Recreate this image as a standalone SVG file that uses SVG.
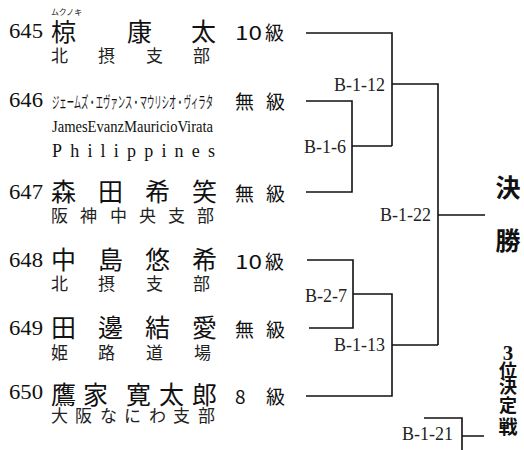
<svg xmlns="http://www.w3.org/2000/svg" width="524" height="450" viewBox="0 0 524 450">
<style>
.num{font-family:"Liberation Serif","DejaVu Serif",serif;font-size:21px;fill:#111}
.nm{font-family:"Noto Sans CJK JP",sans-serif;font-size:25px;fill:#111}
.af{font-family:"Noto Sans CJK JP",sans-serif;font-size:17px;fill:#222}
.gr{font-family:"Noto Sans CJK JP",sans-serif;font-size:19px;fill:#111}
.lb{font-family:"Liberation Serif","DejaVu Serif",serif;font-size:18px;fill:#222;text-anchor:end}
.bd{font-family:"Liberation Serif","Noto Sans CJK JP",serif;font-weight:bold;fill:#111;text-anchor:middle}
.ln{fill:none;stroke:#111;stroke-width:1.6}
</style>
<rect width="524" height="450" fill="#fff"/>
<g id="p645">
<text class="af" x="51" y="15" style="font-size:8.5px" textLength="31" lengthAdjust="spacingAndGlyphs">ムクノキ</text>
<text class="num" x="9" y="38" textLength="34" lengthAdjust="spacingAndGlyphs">645</text>
<text class="nm" y="41"><tspan x="51">椋</tspan><tspan x="127">康</tspan><tspan x="191">太</tspan></text>
<text class="af" y="62"><tspan x="51">北</tspan><tspan x="98">摂</tspan><tspan x="146">支</tspan><tspan x="193">部</tspan></text>
<text class="gr" x="235" y="40" textLength="27" lengthAdjust="spacingAndGlyphs">10</text>
<text class="gr" x="265" y="40">級</text>
</g>
<g id="p646">
<text class="num" x="9" y="107" textLength="34" lengthAdjust="spacingAndGlyphs">646</text>
<text class="af" x="52" y="108" style="font-size:16px;fill:#111" textLength="161" lengthAdjust="spacingAndGlyphs">ジェームズ・エヴァンス・マウリシオ・ヴィラタ</text>
<text class="gr" y="109"><tspan x="235">無</tspan><tspan x="266">級</tspan></text>
<text class="num" x="52" y="132" style="font-size:16px" textLength="161" lengthAdjust="spacingAndGlyphs">JamesEvanzMauricioVirata</text>
<text class="num" x="52" y="157" style="font-size:18px" textLength="163" lengthAdjust="spacing">Philippines</text>
</g>
<g id="p647">
<text class="num" x="9" y="199" textLength="34" lengthAdjust="spacingAndGlyphs">647</text>
<text class="nm" y="201"><tspan x="51">森</tspan><tspan x="98">田</tspan><tspan x="145">希</tspan><tspan x="192">笑</tspan></text>
<text class="af" y="222"><tspan x="51">阪</tspan><tspan x="80">神</tspan><tspan x="110">中</tspan><tspan x="139">央</tspan><tspan x="168">支</tspan><tspan x="197">部</tspan></text>
<text class="gr" y="201"><tspan x="235">無</tspan><tspan x="266">級</tspan></text>
</g>
<g id="p648">
<text class="num" x="9" y="267" textLength="34" lengthAdjust="spacingAndGlyphs">648</text>
<text class="nm" y="269"><tspan x="51">中</tspan><tspan x="98">島</tspan><tspan x="145">悠</tspan><tspan x="192">希</tspan></text>
<text class="af" y="290"><tspan x="51">北</tspan><tspan x="98">摂</tspan><tspan x="146">支</tspan><tspan x="193">部</tspan></text>
<text class="gr" x="235" y="269" textLength="27" lengthAdjust="spacingAndGlyphs">10</text>
<text class="gr" x="265" y="269">級</text>
</g>
<g id="p649">
<text class="num" x="9" y="335" textLength="34" lengthAdjust="spacingAndGlyphs">649</text>
<text class="nm" y="337"><tspan x="51">田</tspan><tspan x="98">邊</tspan><tspan x="145">結</tspan><tspan x="192">愛</tspan></text>
<text class="af" y="359"><tspan x="51">姫</tspan><tspan x="98">路</tspan><tspan x="146">道</tspan><tspan x="194">場</tspan></text>
<text class="gr" y="337"><tspan x="235">無</tspan><tspan x="266">級</tspan></text>
</g>
<g id="p650">
<text class="num" x="9" y="399" textLength="34" lengthAdjust="spacingAndGlyphs">650</text>
<text class="nm" y="404"><tspan x="51">鷹</tspan><tspan x="83">家</tspan><tspan x="126">寛</tspan><tspan x="159">太</tspan><tspan x="192">郎</tspan></text>
<text class="af" y="422"><tspan x="51">大</tspan><tspan x="75">阪</tspan><tspan x="100">な</tspan><tspan x="124">に</tspan><tspan x="149">わ</tspan><tspan x="173">支</tspan><tspan x="198">部</tspan></text>
<text class="gr" y="404"><tspan x="235">8</tspan><tspan x="266">級</tspan></text>
</g>
<g id="connectors">
<path class="ln" d="M306 33H392V146M306 101H352V192H306M352 146H392M392 84H438V345M438 215H485"/>
<path class="ln" d="M307 260H353V328H309M353 294H392V396H306M392 345H438"/>
<path class="ln" d="M424 418H462V452M462 436H484"/>
</g>
<g id="labels">
<text class="lb" x="385" y="91">B-1-12</text>
<text class="lb" x="346" y="153">B-1-6</text>
<text class="lb" x="431" y="221">B-1-22</text>
<text class="lb" x="347" y="302">B-2-7</text>
<text class="lb" x="385" y="351">B-1-13</text>
<text class="lb" x="453" y="440">B-1-21</text>
</g>
<g id="final">
<text class="bd" x="508" y="197" style="font-size:25px">決</text>
<text class="bd" x="508" y="250" style="font-size:25px">勝</text>
</g>
<g id="third">
<text class="bd" x="508" y="360" style="font-size:21px">3</text>
<text class="bd" x="508" y="377" style="font-size:18px">位</text>
<text class="bd" x="508" y="393" style="font-size:18px">決</text>
<text class="bd" x="508" y="412" style="font-size:18px">定</text>
<text class="bd" x="508" y="434" style="font-size:19px">戦</text>
</g>
</svg>
